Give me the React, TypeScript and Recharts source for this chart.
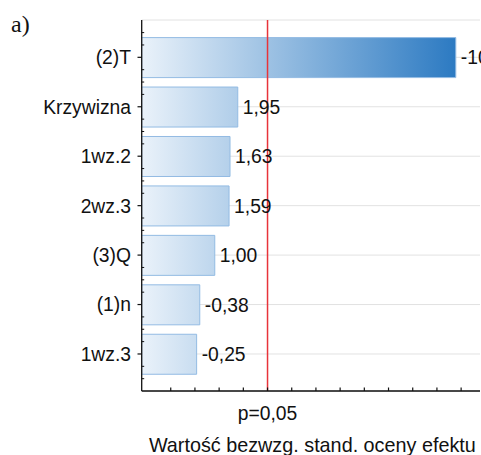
import { BarChart, Bar, XAxis, YAxis, CartesianGrid, ReferenceLine, LabelList, Label } from 'recharts';

const CATEGORIES = ['(2)T', 'Krzywizna', '1wz.2', '2wz.3', '(3)Q', '(1)n', '1wz.3'];
const EFFECTS = [-10.96, 1.95, 1.63, 1.59, 1.0, -0.38, -0.25];
const P_CRIT = 3.18;
const P_LABEL = 'p=0,05';
const AXIS_MIN = -2.02;
const AXIS_MAX = 11.96;
const X_TICKS = [-0.82, 0.18, 1.18, 2.18, 3.18, 4.18, 5.18, 6.18, 7.18, 8.18, 9.18, 10.18, 11.18];
const AXIS_TITLE = 'Wartość bezwzg. stand. oceny efektu';

const fmt = (v: number) => v.toFixed(2).replace('.', ',');

const data = CATEGORIES.map((name, i) => ({
  name,
  effect: EFFECTS[i],
  abs: Math.abs(EFFECTS[i]),
  label: fmt(EFFECTS[i]),
}));

// layout
const W = 481;
const H = 455;
const TOP = 20;
const BOTTOM = 391;
const LEFT = 141.7;
const RIGHT = 480;
const PAD_T = 12.6;
const PAD_B = 12.3;
const BAND = (BOTTOM - TOP - PAD_T - PAD_B) / CATEGORIES.length;
const FONT = 19.3;
const INK = '#111';

const BottomTick = ({ x, y, payload }: any) => (
  <g>
    <line x1={x} x2={x} y1={y} y2={y - 3.5} stroke={INK} strokeWidth={1.2} />
    {payload.value === P_CRIT && (
      <text x={x} y={y + 29} textAnchor="middle" fontSize={FONT} fill={INK}>
        {P_LABEL}
      </text>
    )}
  </g>
);

const TopTick = ({ x, y }: any) => (
  <line x1={x} x2={x} y1={y} y2={y + 3.5} stroke={INK} strokeWidth={1.2} />
);

const minorOffsets = (index: number) => {
  const offs = [-BAND / 2, -BAND / 4, BAND / 4];
  if (index === CATEGORIES.length - 1) offs.push(BAND / 2);
  return offs;
};

const LeftTick = ({ x, y, payload, index }: any) => (
  <g>
    <line x1={x - 4.2} x2={x} y1={y} y2={y} stroke={INK} strokeWidth={1.2} />
    {minorOffsets(index).map((o) => (
      <line key={o} x1={x} x2={x + 2.5} y1={y + o} y2={y + o} stroke={INK} strokeWidth={1} />
    ))}
    <text x={x - 10.7} y={y} dy={6.9} textAnchor="end" fontSize={FONT} fill={INK}>
      {payload.value}
    </text>
  </g>
);

const RightTick = ({ x, y, index }: any) => (
  <g>
    <line x1={x - 3.5} x2={x} y1={y} y2={y} stroke={INK} strokeWidth={1.4} />
    {minorOffsets(index).map((o) => (
      <line key={o} x1={x - 2.5} x2={x} y1={y + o} y2={y + o} stroke={INK} strokeWidth={1} />
    ))}
  </g>
);

export default function App() {
  return (
    <div
      style={{
        position: 'absolute',
        left: 0,
        top: 0,
        width: W,
        height: H,
        overflow: 'hidden',
        background: '#fff',
        fontFamily: '"Liberation Sans", Arial, sans-serif',
      }}
    >
      <div
        style={{
          position: 'absolute',
          left: 11,
          top: 11.6,
          fontFamily: '"Liberation Serif", "DejaVu Serif", serif',
          fontSize: 24,
          lineHeight: '24px',
          color: INK,
        }}
      >
        a)
      </div>
      <BarChart
        width={W}
        height={H}
        data={data}
        layout="vertical"
        margin={{ top: TOP, right: W - RIGHT, bottom: 0, left: 0 }}
        barSize={40}
      >
        <defs>
          <linearGradient id="barFill" gradientUnits="userSpaceOnUse" x1={LEFT} y1={0} x2={455.7} y2={0}>
            <stop offset="0%" stopColor="#eaf2fa" />
            <stop offset="100%" stopColor="#2c7ac2" />
          </linearGradient>
        </defs>
        <CartesianGrid vertical={false} stroke="#e2e2e2" strokeWidth={1} />
        <XAxis
          type="number"
          domain={[AXIS_MIN, AXIS_MAX]}
          allowDataOverflow
          ticks={X_TICKS}
          interval={0}
          height={H - BOTTOM}
          tickSize={0}
          tickMargin={0}
          tickLine={false}
          tick={BottomTick}
          axisLine={{ stroke: INK, strokeWidth: 1.3 }}
        >
          <Label
            content={() => (
              <text
                x={(LEFT + RIGHT) / 2 + 1.5}
                y={BOTTOM + 60.7}
                textAnchor="middle"
                fontSize={19.8}
                fill={INK}
              >
                {AXIS_TITLE}
              </text>
            )}
          />
        </XAxis>
        <XAxis
          xAxisId="top"
          orientation="top"
          type="number"
          domain={[AXIS_MIN, AXIS_MAX]}
          allowDataOverflow
          ticks={X_TICKS}
          interval={0}
          height={0}
          tickSize={0}
          tickMargin={0}
          tickLine={false}
          tick={TopTick}
          axisLine={{ stroke: INK, strokeWidth: 1.3 }}
        />
        <YAxis
          type="category"
          dataKey="name"
          width={LEFT}
          padding={{ top: PAD_T, bottom: PAD_B }}
          interval={0}
          tickSize={0}
          tickMargin={0}
          tickLine={false}
          tick={LeftTick}
          axisLine={{ stroke: INK, strokeWidth: 1.3 }}
        />
        <YAxis
          yAxisId="right"
          orientation="right"
          type="category"
          dataKey="name"
          width={0}
          padding={{ top: PAD_T, bottom: PAD_B }}
          interval={0}
          tickSize={0}
          tickMargin={0}
          tickLine={false}
          tick={RightTick}
          axisLine={{ stroke: INK, strokeWidth: 1.3 }}
        />
        <Bar
          dataKey={(d: any) => [AXIS_MIN, d.abs]}
          fill="url(#barFill)"
          stroke="#93bbe3"
          strokeWidth={1}
          isAnimationActive={false}
        >
          <LabelList dataKey="label" position="right" offset={5} fontSize={FONT} fill={INK} />
        </Bar>
        <ReferenceLine x={P_CRIT} stroke="#e8333a" strokeWidth={1.5} />
      </BarChart>
    </div>
  );
}
